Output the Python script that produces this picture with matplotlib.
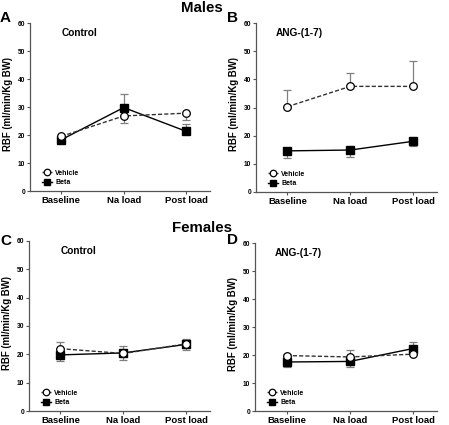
import matplotlib
matplotlib.use("Agg")
import matplotlib.pyplot as plt
import numpy as np

plt.rcParams['font.family'] = ['Liberation Sans', 'DejaVu Sans']
plt.rcParams['font.weight'] = 'bold'

categories = ["Baseline", "Na load", "Post load"]
yticks = [0, 10, 20, 30, 40, 50, 60]

# Panel A: Males, Control
A_veh = [19.5, 26.8, 27.8]; A_veh_lo = [0.8, 2.4, 2.3]; A_veh_hi = [0.5, 0.0, 0.0]
A_beta = [18.3, 29.8, 21.3]; A_beta_lo = [0.5, 0.0, 0.0]; A_beta_hi = [0.5, 4.7, 2.6]
# Panel B: Males, ANG-(1-7)
B_veh = [30.3, 37.5, 37.5]; B_veh_lo = [0.0, 0.0, 0.0]; B_veh_hi = [5.9, 4.7, 9.0]
B_beta = [14.6, 14.9, 18.0]; B_beta_lo = [2.6, 2.4, 1.8]; B_beta_hi = [0.0, 0.0, 0.0]
# Panel C: Females, Control
C_veh = [22.0, 20.3, 23.7]; C_veh_lo = [0.0, 0.0, 0.0]; C_veh_hi = [2.5, 2.6, 1.8]
C_beta = [19.8, 20.5, 23.5]; C_beta_lo = [2.3, 2.5, 1.8]; C_beta_hi = [0.0, 0.0, 0.0]
# Panel D: Females, ANG-(1-7)
D_veh = [19.8, 19.3, 20.3]; D_veh_lo = [0.0, 0.0, 0.0]; D_veh_hi = [0.5, 2.4, 0.5]
D_beta = [17.5, 17.7, 22.3]; D_beta_lo = [1.7, 1.9, 0.0]; D_beta_hi = [0.0, 0.0, 2.4]

panels = [
    ("A", "Control", A_veh, A_veh_lo, A_veh_hi, A_beta, A_beta_lo, A_beta_hi),
    ("B", "ANG-(1-7)", B_veh, B_veh_lo, B_veh_hi, B_beta, B_beta_lo, B_beta_hi),
    ("C", "Control", C_veh, C_veh_lo, C_veh_hi, C_beta, C_beta_lo, C_beta_hi),
    ("D", "ANG-(1-7)", D_veh, D_veh_lo, D_veh_hi, D_beta, D_beta_lo, D_beta_hi),
]

W, H = 449, 425
fig = plt.figure(figsize=(W / 100, H / 100), dpi=100)

# pixel boxes: left, top, right, bottom
boxes = {
    "A": (30, 23, 210, 191),
    "B": (256, 23, 437, 192),
    "C": (29, 241, 210, 411),
    "D": (255, 243, 437, 411),
}
letter_pos = {"A": (0, 18), "B": (227, 18), "C": (0, 241), "D": (227, 240)}

x = np.arange(len(categories))
for letter, title, veh, vlo, vhi, beta, blo, bhi in panels:
    l, t, r, b = boxes[letter]
    ax = fig.add_axes([l / W, 1 - b / H, (r - l) / W, (b - t) / H])
    ax.errorbar(x, veh, yerr=[vlo, vhi], fmt='none', ecolor='#808080',
                elinewidth=0.9, capsize=3, capthick=0.9, zorder=2)
    ax.errorbar(x, beta, yerr=[blo, bhi], fmt='none', ecolor='#808080',
                elinewidth=0.9, capsize=3, capthick=0.9, zorder=2)
    ax.plot(x, beta, '-', color='black', lw=1.0, marker='s', markersize=5.5,
            markerfacecolor='black', markeredgecolor='black', label='Beta', zorder=3)
    ax.plot(x, veh, '--', color='#333333', lw=1.0, dashes=(3, 1.5), marker='o', markersize=5.5,
            markerfacecolor='white', markeredgecolor='black', markeredgewidth=0.9,
            label='Vehicle', zorder=4)
    ax.set_ylim(0, 60)
    ax.set_xlim(-0.5, 2.38)
    ax.set_yticks(yticks)
    ax.set_yticklabels([str(v) for v in yticks], fontsize=4.8, fontweight='bold')
    ax.set_xticks(x)
    ax.set_xticklabels(categories, fontsize=6.8, fontweight='bold')
    ax.tick_params(axis='y', length=2.5, width=0.8, pad=1, color='#555555')
    ax.tick_params(axis='x', length=2.5, width=0.8, pad=1, color='#555555')
    for s in ['top', 'right']:
        ax.spines[s].set_visible(False)
    for s in ['left', 'bottom']:
        ax.spines[s].set_linewidth(0.9)
        ax.spines[s].set_color('#555555')
    ax.set_ylabel("RBF (ml/min/Kg BW)", fontsize=6.9, fontweight='bold')
    ax.yaxis.set_label_coords(-0.095, 0.52)
    ax.text(0.0 if title == "Control" else -0.18, 56.4, title, fontsize=7.3,
            fontweight='bold', ha='left', va='center')
    h, lab = ax.get_legend_handles_labels()
    ax.legend(h[::-1], lab[::-1], loc='lower left', bbox_to_anchor=(0.04, 0.0),
              frameon=False, handlelength=1.4, handletextpad=0.5,
              borderpad=0.2, labelspacing=0.35, markerscale=0.85,
              prop={'weight': 'bold', 'size': 5.0})
    lx, ly = letter_pos[letter]
    fig.text(lx / W, 1 - ly / H, letter, fontsize=11, fontweight='bold',
             ha='left', va='center')

fig.text(202 / W, 1 - 8 / H, "Males", fontsize=10.8, fontweight='bold', ha='center', va='center')
fig.text(202 / W, 1 - 227.5 / H, "Females", fontsize=10.8, fontweight='bold', ha='center', va='center')

fig.savefig("out.png", dpi=100)
